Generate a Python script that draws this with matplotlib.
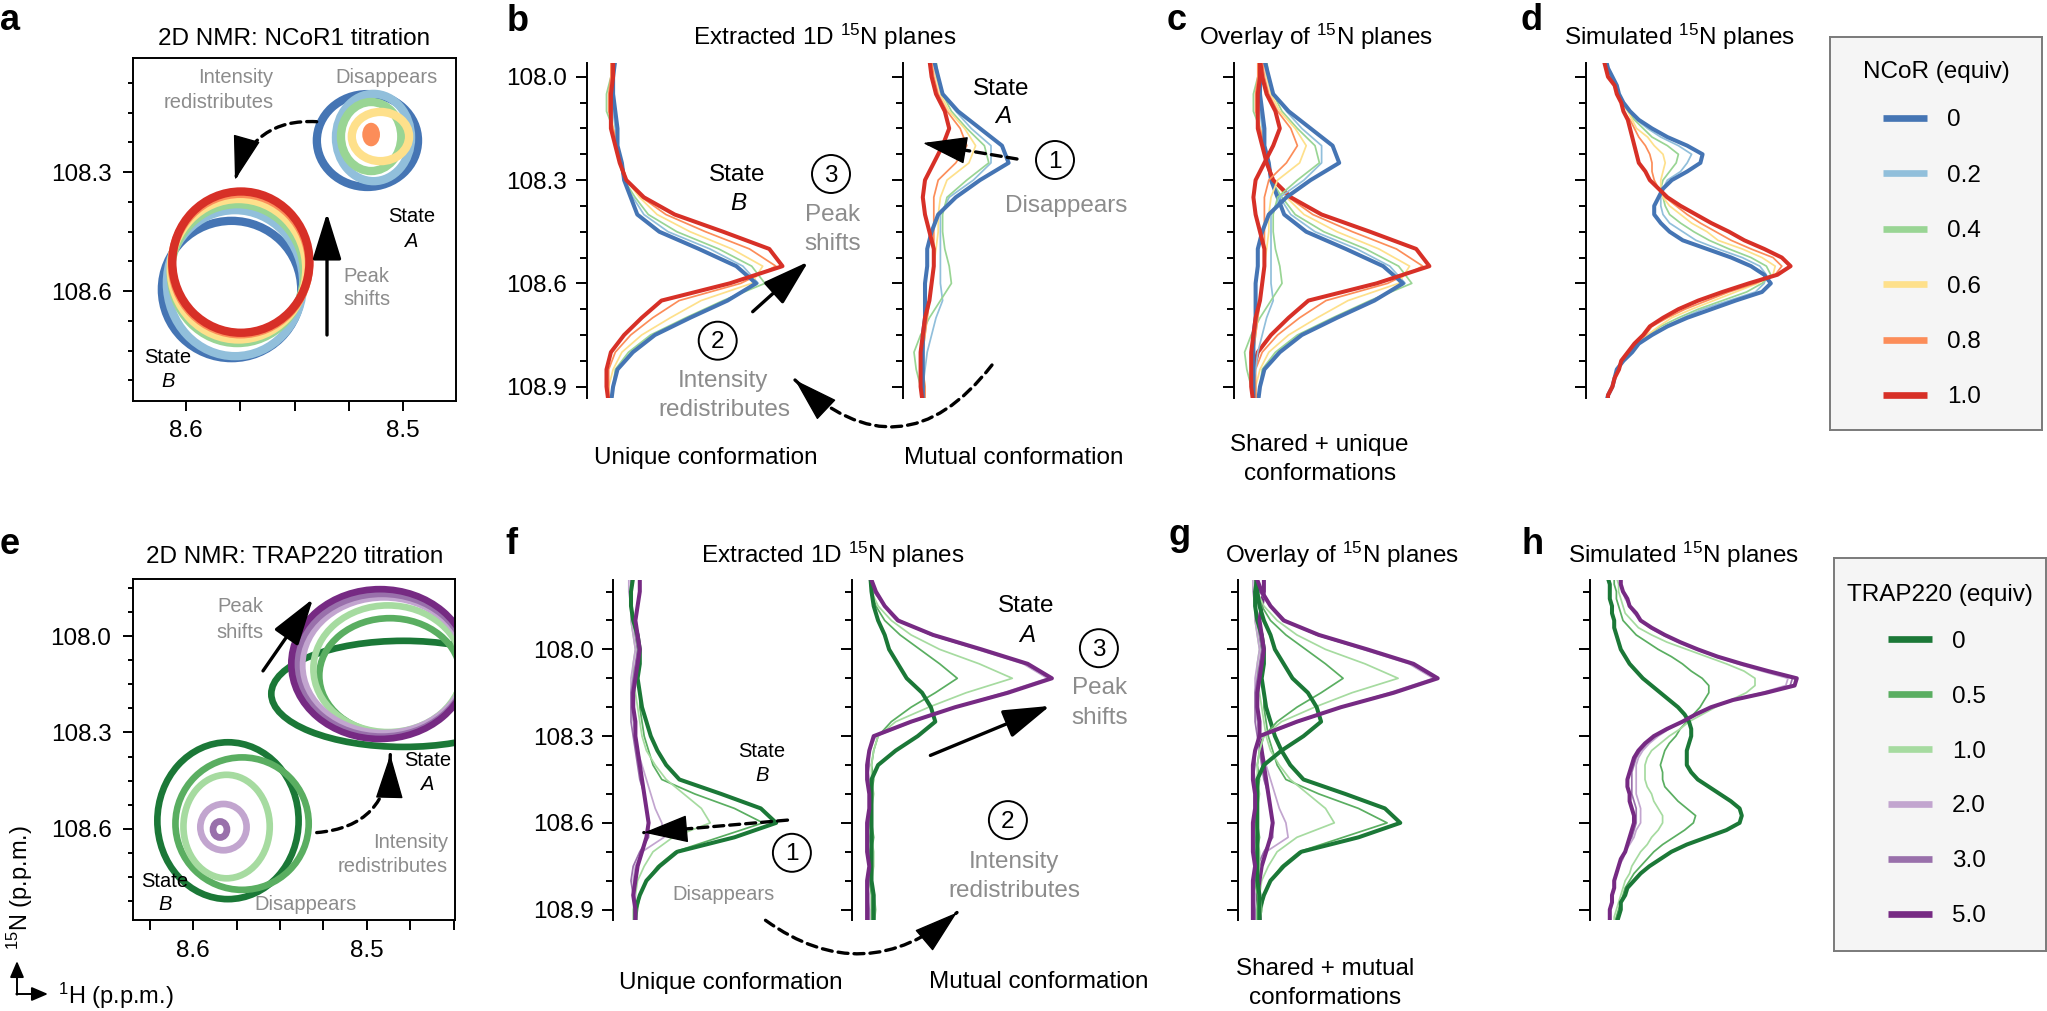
import matplotlib

matplotlib.use("Agg")

import matplotlib.pyplot as plt
import numpy as np
from matplotlib.lines import Line2D
from matplotlib.patches import Circle, Ellipse
from matplotlib.ticker import FixedLocator, FormatStrFormatter, MultipleLocator

plt.rcParams["font.family"] = ["Liberation Sans", "DejaVu Sans"]
plt.rcParams["mathtext.default"] = "regular"

W, H = 2047, 1011
GREY = "#8c8c8c"

NCOR_LABELS = ["0", "0.2", "0.4", "0.6", "0.8", "1.0"]
NCOR_COLORS = ["#4575b4", "#91bfdb", "#99d594", "#fee08b", "#fc8d59", "#d73027"]
TRAP_LABELS = ["0", "0.5", "1.0", "2.0", "3.0", "5.0"]
TRAP_COLORS = ["#1b7837", "#5aae61", "#a6dba0", "#c2a5cf", "#9970ab", "#762a83"]

# 2D peaks: centre (1H, 15N) and half-widths of the outer contour, one per titration point
NCOR_A_H = [8.5164, 8.5136, 8.5147, 8.5104, 8.5147, None]
NCOR_A_N = [108.2206, 108.213, 108.2105, 108.2105, 108.2055, None]
NCOR_A_DH = [0.0233, 0.0173, 0.0139, 0.0132, 0.0036, None]
NCOR_A_DN = [0.117, 0.110, 0.087, 0.062, 0.027, None]
NCOR_B_H = [8.579, 8.5774, 8.5763, 8.5758, 8.5749, 8.5747]
NCOR_B_N = [108.596, 108.580, 108.556, 108.545, 108.532, 108.527]
NCOR_B_DH = [0.0321, 0.0314, 0.0307, 0.0312, 0.0316, 0.0316]
NCOR_B_DN = [0.173, 0.184, 0.175, 0.177, 0.177, 0.178]

TRAP_A_H = [8.4790, 8.4868, 8.4879, 8.4902, 8.4914, 8.4925]
TRAP_A_N = [108.180, 108.1236, 108.1018, 108.0909, 108.0909, 108.0873]
TRAP_A_DH = [0.0760, 0.0406, 0.0429, 0.0470, 0.0492, 0.0510]
TRAP_A_DN = [0.165, 0.179, 0.197, 0.211, 0.222, 0.233]
TRAP_B_H = [8.5799, 8.5718, 8.5807, 8.5825, 8.5845, None]
TRAP_B_N = [108.5745, 108.5836, 108.5927, 108.5945, 108.6018, None]
TRAP_B_DH = [0.0406, 0.0383, 0.0248, 0.0133, 0.0040, None]
TRAP_B_DN = [0.244, 0.206, 0.161, 0.072, 0.025, None]

# 15N sampling of the 1D planes
PPM_NCOR_EXP = np.linspace(107.95, 108.95, 21)
PPM_NCOR_SIM = np.linspace(107.95, 108.95, 41)
PPM_TRAP_EXP = np.linspace(107.75, 108.95, 25)
PPM_TRAP_SIM = np.linspace(107.75, 108.95, 49)

NCOR_UNIQUE = [
    [0.13, 0.12, 0.12, 0.13, 0.14, 0.14, 0.16, 0.17, 0.20, 0.23, 0.33, 0.51, 0.68, 0.77, 0.64, 0.47, 0.31, 0.21, 0.14, 0.12, 0.11],
    [0.13, 0.12, 0.11, 0.12, 0.13, 0.14, 0.15, 0.17, 0.21, 0.26, 0.37, 0.56, 0.71, 0.78, 0.63, 0.46, 0.30, 0.20, 0.14, 0.12, 0.11],
    [0.12, 0.11, 0.09, 0.09, 0.12, 0.14, 0.15, 0.17, 0.22, 0.28, 0.41, 0.60, 0.75, 0.81, 0.62, 0.45, 0.29, 0.19, 0.13, 0.12, 0.11],
    [0.12, 0.12, 0.11, 0.11, 0.12, 0.14, 0.16, 0.18, 0.24, 0.32, 0.47, 0.66, 0.80, 0.75, 0.52, 0.38, 0.25, 0.16, 0.12, 0.10, 0.10],
    [0.11, 0.11, 0.10, 0.10, 0.12, 0.14, 0.16, 0.18, 0.25, 0.36, 0.54, 0.74, 0.86, 0.70, 0.42, 0.30, 0.20, 0.13, 0.10, 0.10, 0.10],
    [0.12, 0.12, 0.11, 0.11, 0.11, 0.13, 0.15, 0.18, 0.26, 0.40, 0.62, 0.83, 0.89, 0.65, 0.34, 0.25, 0.17, 0.11, 0.09, 0.09, 0.10],
]
NCOR_MUTUAL = [
    [0.14, 0.16, 0.18, 0.25, 0.35, 0.45, 0.48, 0.35, 0.24, 0.16, 0.13, 0.11, 0.11, 0.10, 0.10, 0.10, 0.09, 0.09, 0.09, 0.09, 0.09],
    [0.14, 0.15, 0.18, 0.24, 0.31, 0.40, 0.40, 0.32, 0.21, 0.17, 0.17, 0.17, 0.17, 0.17, 0.18, 0.15, 0.13, 0.11, 0.10, 0.09, 0.09],
    [0.15, 0.16, 0.18, 0.22, 0.29, 0.37, 0.39, 0.29, 0.20, 0.18, 0.18, 0.19, 0.21, 0.22, 0.17, 0.12, 0.08, 0.05, 0.06, 0.08, 0.09],
    [0.14, 0.15, 0.17, 0.21, 0.28, 0.33, 0.30, 0.20, 0.17, 0.16, 0.16, 0.15, 0.14, 0.13, 0.12, 0.11, 0.10, 0.09, 0.09, 0.10, 0.10],
    [0.13, 0.14, 0.16, 0.20, 0.26, 0.29, 0.24, 0.16, 0.14, 0.14, 0.14, 0.14, 0.14, 0.13, 0.12, 0.11, 0.10, 0.09, 0.09, 0.10, 0.10],
    [0.12, 0.13, 0.15, 0.19, 0.21, 0.18, 0.14, 0.10, 0.09, 0.10, 0.12, 0.14, 0.14, 0.13, 0.12, 0.10, 0.09, 0.08, 0.08, 0.08, 0.09],
]
NCOR_SIM = [
    [0.09, 0.10, 0.12, 0.14, 0.15, 0.17, 0.20, 0.24, 0.30, 0.37, 0.46, 0.53, 0.52, 0.46, 0.39, 0.35, 0.33, 0.31, 0.31, 0.34,
     0.38, 0.44, 0.55, 0.66, 0.75, 0.81, 0.84, 0.80, 0.68, 0.57, 0.46, 0.37, 0.30, 0.24, 0.21, 0.17, 0.14, 0.13, 0.12, 0.10, 0.09],
    [0.09, 0.10, 0.12, 0.14, 0.15, 0.17, 0.20, 0.23, 0.28, 0.34, 0.42, 0.48, 0.46, 0.43, 0.37, 0.35, 0.34, 0.34, 0.35, 0.38,
     0.44, 0.50, 0.60, 0.71, 0.79, 0.82, 0.81, 0.77, 0.65, 0.53, 0.44, 0.36, 0.29, 0.24, 0.21, 0.17, 0.14, 0.13, 0.12, 0.10, 0.09],
    [0.09, 0.10, 0.12, 0.14, 0.15, 0.17, 0.19, 0.22, 0.26, 0.30, 0.37, 0.42, 0.41, 0.38, 0.35, 0.34, 0.35, 0.36, 0.38, 0.43,
     0.49, 0.56, 0.65, 0.75, 0.82, 0.84, 0.80, 0.73, 0.62, 0.51, 0.42, 0.34, 0.28, 0.23, 0.20, 0.17, 0.14, 0.13, 0.12, 0.10, 0.09],
    [0.08, 0.09, 0.10, 0.13, 0.14, 0.16, 0.19, 0.21, 0.23, 0.28, 0.31, 0.35, 0.36, 0.35, 0.34, 0.34, 0.35, 0.38, 0.43, 0.48,
     0.55, 0.60, 0.71, 0.80, 0.86, 0.85, 0.78, 0.68, 0.58, 0.48, 0.39, 0.33, 0.28, 0.23, 0.20, 0.16, 0.15, 0.13, 0.12, 0.10, 0.10],
    [0.08, 0.09, 0.10, 0.13, 0.14, 0.16, 0.17, 0.20, 0.22, 0.24, 0.27, 0.29, 0.30, 0.30, 0.31, 0.33, 0.36, 0.41, 0.46, 0.52,
     0.59, 0.66, 0.75, 0.85, 0.89, 0.86, 0.77, 0.65, 0.55, 0.45, 0.37, 0.30, 0.27, 0.22, 0.19, 0.16, 0.15, 0.13, 0.12, 0.10, 0.10],
    [0.08, 0.09, 0.10, 0.13, 0.14, 0.16, 0.17, 0.19, 0.20, 0.21, 0.22, 0.23, 0.24, 0.27, 0.29, 0.33, 0.37, 0.43, 0.50, 0.57,
     0.65, 0.72, 0.81, 0.89, 0.93, 0.87, 0.74, 0.62, 0.51, 0.42, 0.35, 0.29, 0.26, 0.22, 0.19, 0.16, 0.15, 0.13, 0.12, 0.10, 0.10],
]

TRAP_UNIQUE = [
    [0.09, 0.08, 0.08, 0.09, 0.11, 0.12, 0.12, 0.11, 0.12, 0.13, 0.15, 0.17, 0.20, 0.24, 0.30, 0.49, 0.67, 0.74, 0.55, 0.29, 0.21, 0.15, 0.12, 0.10, 0.10],
    [0.09, 0.08, 0.08, 0.09, 0.10, 0.11, 0.11, 0.11, 0.12, 0.12, 0.13, 0.14, 0.16, 0.18, 0.22, 0.37, 0.55, 0.68, 0.48, 0.28, 0.20, 0.15, 0.12, 0.11, 0.10],
    [0.08, 0.08, 0.08, 0.08, 0.09, 0.10, 0.09, 0.09, 0.10, 0.11, 0.12, 0.13, 0.15, 0.19, 0.24, 0.32, 0.40, 0.44, 0.27, 0.18, 0.14, 0.11, 0.10, 0.09, 0.09],
    [0.07, 0.07, 0.08, 0.08, 0.09, 0.10, 0.09, 0.08, 0.08, 0.08, 0.09, 0.10, 0.11, 0.13, 0.15, 0.17, 0.19, 0.22, 0.23, 0.13, 0.10, 0.09, 0.10, 0.10, 0.10],
    [0.08, 0.08, 0.08, 0.09, 0.10, 0.11, 0.10, 0.09, 0.08, 0.08, 0.08, 0.09, 0.10, 0.11, 0.12, 0.14, 0.15, 0.16, 0.16, 0.12, 0.09, 0.08, 0.09, 0.10, 0.10],
    [0.12, 0.12, 0.11, 0.10, 0.11, 0.12, 0.11, 0.10, 0.09, 0.09, 0.10, 0.10, 0.11, 0.12, 0.13, 0.14, 0.15, 0.16, 0.15, 0.13, 0.11, 0.10, 0.09, 0.10, 0.10],
]
TRAP_MUTUAL = [
    [0.085, 0.09, 0.10, 0.12, 0.15, 0.17, 0.21, 0.25, 0.32, 0.36, 0.38, 0.30, 0.20, 0.12, 0.09, 0.09, 0.09, 0.09, 0.09, 0.09, 0.09, 0.09, 0.10, 0.10, 0.10],
    [0.08, 0.09, 0.11, 0.15, 0.22, 0.31, 0.40, 0.48, 0.38, 0.27, 0.18, 0.12, 0.10, 0.09, 0.10, 0.09, 0.08, 0.09, 0.10, 0.09, 0.09, 0.08, 0.09, 0.09, 0.09],
    [0.08, 0.09, 0.12, 0.18, 0.27, 0.40, 0.58, 0.73, 0.52, 0.35, 0.20, 0.12, 0.10, 0.09, 0.09, 0.10, 0.09, 0.08, 0.09, 0.10, 0.10, 0.09, 0.10, 0.11, 0.10],
    [0.08, 0.10, 0.15, 0.22, 0.36, 0.57, 0.78, 0.89, 0.69, 0.47, 0.28, 0.11, 0.08, 0.07, 0.08, 0.09, 0.08, 0.07, 0.08, 0.09, 0.08, 0.07, 0.08, 0.08, 0.08],
    [0.08, 0.10, 0.15, 0.21, 0.36, 0.58, 0.79, 0.90, 0.70, 0.47, 0.27, 0.10, 0.08, 0.08, 0.07, 0.08, 0.09, 0.08, 0.07, 0.08, 0.08, 0.08, 0.07, 0.08, 0.08],
    [0.085, 0.11, 0.15, 0.21, 0.37, 0.59, 0.80, 0.91, 0.71, 0.47, 0.27, 0.10, 0.08, 0.07, 0.07, 0.08, 0.08, 0.07, 0.07, 0.07, 0.08, 0.07, 0.07, 0.07, 0.07],
]
TRAP_SIM = [
    [0.08, 0.09, 0.09, 0.09, 0.10, 0.10, 0.11, 0.11, 0.12, 0.13, 0.14, 0.16, 0.18, 0.21, 0.24, 0.28, 0.32, 0.36, 0.40, 0.43,
     0.45, 0.46, 0.46, 0.45, 0.44, 0.44, 0.44, 0.46, 0.49, 0.54, 0.59, 0.64, 0.68, 0.69, 0.68, 0.62, 0.53, 0.44, 0.37, 0.32,
     0.27, 0.23, 0.20, 0.17, 0.16, 0.14, 0.14, 0.13, 0.12],
    [0.11, 0.11, 0.12, 0.12, 0.13, 0.14, 0.15, 0.18, 0.21, 0.26, 0.31, 0.37, 0.42, 0.46, 0.51, 0.54, 0.54, 0.52, 0.50, 0.47,
     0.44, 0.41, 0.39, 0.36, 0.34, 0.33, 0.32, 0.33, 0.33, 0.34, 0.37, 0.40, 0.44, 0.48, 0.47, 0.43, 0.38, 0.33, 0.29, 0.26,
     0.23, 0.20, 0.18, 0.16, 0.15, 0.14, 0.13, 0.12, 0.11],
    [0.12, 0.13, 0.13, 0.14, 0.15, 0.16, 0.19, 0.22, 0.28, 0.35, 0.44, 0.53, 0.62, 0.70, 0.75, 0.75, 0.71, 0.64, 0.57, 0.51,
     0.45, 0.41, 0.36, 0.32, 0.28, 0.26, 0.25, 0.25, 0.25, 0.26, 0.28, 0.29, 0.31, 0.33, 0.33, 0.31, 0.28, 0.26, 0.23, 0.21,
     0.19, 0.18, 0.16, 0.15, 0.14, 0.13, 0.12, 0.11, 0.11],
    [0.13, 0.14, 0.15, 0.16, 0.18, 0.20, 0.23, 0.27, 0.33, 0.40, 0.48, 0.57, 0.67, 0.78, 0.90, 0.89, 0.78, 0.64, 0.55, 0.48,
     0.42, 0.36, 0.31, 0.27, 0.24, 0.22, 0.21, 0.21, 0.21, 0.21, 0.21, 0.22, 0.23, 0.23, 0.23, 0.21, 0.20, 0.18, 0.16, 0.15,
     0.13, 0.12, 0.11, 0.11, 0.10, 0.10, 0.09, 0.09, 0.09],
    [0.14, 0.14, 0.15, 0.17, 0.18, 0.21, 0.23, 0.28, 0.34, 0.41, 0.49, 0.58, 0.68, 0.80, 0.92, 0.91, 0.79, 0.65, 0.55, 0.48,
     0.42, 0.35, 0.30, 0.26, 0.23, 0.21, 0.20, 0.19, 0.19, 0.19, 0.19, 0.20, 0.21, 0.21, 0.21, 0.20, 0.19, 0.17, 0.16, 0.14,
     0.13, 0.12, 0.11, 0.11, 0.10, 0.10, 0.09, 0.09, 0.09],
    [0.14, 0.14, 0.15, 0.17, 0.18, 0.21, 0.23, 0.28, 0.34, 0.41, 0.49, 0.58, 0.69, 0.81, 0.94, 0.93, 0.80, 0.65, 0.55, 0.48,
     0.42, 0.35, 0.29, 0.25, 0.22, 0.20, 0.19, 0.18, 0.17, 0.17, 0.18, 0.18, 0.19, 0.20, 0.20, 0.19, 0.18, 0.17, 0.16, 0.14,
     0.13, 0.12, 0.11, 0.11, 0.10, 0.10, 0.09, 0.09, 0.09],
]

fig = plt.figure(figsize=(W / 100, H / 100), dpi=100)
fig.patch.set_facecolor("white")


def rect(left, top, right, bottom):
    return [left / W, 1 - bottom / H, (right - left) / W, (bottom - top) / H]


ov = fig.add_axes([0, 0, 1, 1], zorder=10)
ov.set_xlim(0, W)
ov.set_ylim(H, 0)
ov.axis("off")


def contour_axis(box, xlim, ylim, yticks):
    ax = fig.add_axes(rect(*box))
    ax.set_xlim(*xlim)
    ax.set_ylim(*ylim)
    ax.xaxis.set_major_locator(FixedLocator([8.6, 8.5]))
    ax.xaxis.set_minor_locator(MultipleLocator(0.025))
    ax.yaxis.set_major_locator(FixedLocator(yticks))
    ax.yaxis.set_minor_locator(MultipleLocator(0.075))
    ax.xaxis.set_major_formatter(FormatStrFormatter("%.1f"))
    ax.yaxis.set_major_formatter(FormatStrFormatter("%.1f"))
    ax.tick_params(which="both", width=1.4, labelsize=17.5)
    ax.tick_params(axis="x", which="both", length=7, pad=7)
    ax.tick_params(axis="y", which="major", length=7.5, pad=8)
    ax.tick_params(axis="y", which="minor", length=3.8)
    for spine in ax.spines.values():
        spine.set_linewidth(1.4)
    return ax


def draw_peaks(ax, ch, cn, dh, dn, colors, lw, solid=None):
    for i, color in enumerate(colors):
        if ch[i] is None:
            continue
        filled = i == solid
        ax.add_patch(
            Ellipse(
                (ch[i], cn[i]), 2 * dh[i], 2 * dn[i],
                fill=filled, facecolor=color, edgecolor=color,
                lw=1.5 if filled else lw,
            )
        )


def trace_axis(spine_x, top, bottom, ylim, minor, labelled):
    ax = fig.add_axes(rect(spine_x, top, spine_x + 220, bottom))
    ax.patch.set_visible(False)
    ax.set_xlim(0, 1)
    ax.set_ylim(*ylim)
    for side in ("top", "right", "bottom"):
        ax.spines[side].set_visible(False)
    ax.spines["left"].set_linewidth(1.4)
    ax.set_xticks([])
    ax.yaxis.set_major_locator(FixedLocator([108.0, 108.3, 108.6, 108.9]))
    ax.yaxis.set_minor_locator(MultipleLocator(minor))
    ax.yaxis.set_major_formatter(FormatStrFormatter("%.1f"))
    ax.tick_params(axis="y", which="major", length=7.7, width=1.4, pad=6.5,
                   labelsize=17.5, labelleft=labelled)
    ax.tick_params(axis="y", which="minor", length=4.8, width=1.4)
    return ax


def draw_traces(ax, ppm, series, colors):
    for i in (1, 2, 3, 4, 0, 5):
        thick = i in (0, 5)
        ax.plot(series[i], ppm, color=colors[i], lw=2.9 if thick else 1.25)


def legend_panel(box, title, title_y, colors, labels, anchor, spacing):
    lax = fig.add_axes(rect(*box))
    lax.set_facecolor("#f5f5f5")
    lax.set_xticks([])
    lax.set_yticks([])
    for spine in lax.spines.values():
        spine.set_edgecolor("#7a7a7a")
        spine.set_linewidth(1.4)
    handles = [Line2D([], [], color=c, lw=4.8, solid_capstyle="butt") for c in colors]
    fig.legend(
        handles, labels, loc="upper left",
        bbox_to_anchor=(anchor[0] / W, 1 - anchor[1] / H),
        bbox_transform=fig.transFigure, frameon=False, fontsize=17.5,
        handlelength=1.81, handletextpad=0.82, labelspacing=spacing,
        borderpad=0, borderaxespad=0,
    )
    ov.text((box[0] + box[2]) / 2, title_y, title, fontsize=17.5, ha="center", va="baseline")


def text(x, y, s, size=17.5, color="black", ha="center", **kw):
    ov.text(x, y, s, fontsize=size, color=color, ha=ha, va="baseline", **kw)


HEAD = "-|>,head_length=1.45,head_width=0.45"


def arrow(start, end, rad=0.0, dashed=False):
    if not dashed:
        ov.annotate(
            "", xy=end, xytext=start,
            arrowprops=dict(arrowstyle=HEAD, mutation_scale=20, lw=2.4, color="black",
                            shrinkA=0, shrinkB=0),
        )
        return
    ov.annotate(
        "", xy=end, xytext=start,
        arrowprops=dict(arrowstyle="-", lw=2.4, color="black", shrinkA=0, shrinkB=0,
                        connectionstyle=f"arc3,rad={rad}", linestyle=(0, (3, 1.8))),
    )
    # solid head aligned with the end tangent of the arc
    (sx, sy), (ex, ey) = start, end
    cx = (sx + ex) / 2 - rad * (ey - sy)
    cy = (sy + ey) / 2 + rad * (ex - sx)
    tx, ty = ex - cx, ey - cy
    norm = np.hypot(tx, ty)
    base = (ex - 42 * tx / norm, ey - 42 * ty / norm)
    ov.annotate(
        "", xy=end, xytext=base,
        arrowprops=dict(arrowstyle=HEAD, mutation_scale=20, lw=1.0, color="black",
                        shrinkA=0, shrinkB=0),
    )


def circled(x, y, s):
    ov.add_patch(Circle((x, y), 19, fill=False, lw=1.4, ec="black"))
    ov.text(x, y + 1.5, s, fontsize=17.5, ha="center", va="center")


# ---------------- top row: NCoR1 ----------------
ax_a = contour_axis((133, 58, 456, 401), (8.6244, 8.4756), (108.877, 108.0126), [108.3, 108.6])
draw_peaks(ax_a, NCOR_B_H, NCOR_B_N, NCOR_B_DH, NCOR_B_DN, NCOR_COLORS, 6)
draw_peaks(ax_a, NCOR_A_H, NCOR_A_N, NCOR_A_DH, NCOR_A_DN, NCOR_COLORS, 6, solid=4)

TOP = (62.7, 398.0, (108.933, 107.959), 0.075)
ax_b1 = trace_axis(586.7, *TOP, True)
ax_b2 = trace_axis(903.0, *TOP, False)
ax_c = trace_axis(1233.6, *TOP, False)
ax_d = trace_axis(1586.0, *TOP, False)
draw_traces(ax_b1, PPM_NCOR_EXP, NCOR_UNIQUE, NCOR_COLORS)
draw_traces(ax_b2, PPM_NCOR_EXP, NCOR_MUTUAL, NCOR_COLORS)
draw_traces(ax_c, PPM_NCOR_EXP, NCOR_UNIQUE, NCOR_COLORS)
draw_traces(ax_c, PPM_NCOR_EXP, NCOR_MUTUAL, NCOR_COLORS)
draw_traces(ax_d, PPM_NCOR_SIM, NCOR_SIM, NCOR_COLORS)
legend_panel((1830, 36.7, 2042, 430), "NCoR (equiv)", 78.3, NCOR_COLORS, NCOR_LABELS,
             (1883, 109.3), 1.375)

# ---------------- bottom row: TRAP220 ----------------
ax_e = contour_axis((133, 579.3, 455, 920.3), (8.6345, 8.4494), (108.8843, 107.8236),
                    [108.0, 108.3, 108.6])
draw_peaks(ax_e, TRAP_A_H, TRAP_A_N, TRAP_A_DH, TRAP_A_DN, TRAP_COLORS, 4.8)
draw_peaks(ax_e, TRAP_B_H, TRAP_B_N, TRAP_B_DH, TRAP_B_DN, TRAP_COLORS, 4.8)

BOT = (580.0, 920.3, (108.937, 107.760), 0.1)
ax_f1 = trace_axis(613.4, *BOT, True)
ax_f2 = trace_axis(851.7, *BOT, False)
ax_g = trace_axis(1237.5, *BOT, False)
ax_h = trace_axis(1590.0, *BOT, False)
draw_traces(ax_f1, PPM_TRAP_EXP, TRAP_UNIQUE, TRAP_COLORS)
draw_traces(ax_f2, PPM_TRAP_EXP, TRAP_MUTUAL, TRAP_COLORS)
draw_traces(ax_g, PPM_TRAP_EXP, TRAP_UNIQUE, TRAP_COLORS)
draw_traces(ax_g, PPM_TRAP_EXP, TRAP_MUTUAL, TRAP_COLORS)
draw_traces(ax_h, PPM_TRAP_SIM, TRAP_SIM, TRAP_COLORS)
legend_panel((1834, 558, 2046, 951), "TRAP220 (equiv)", 600.7, TRAP_COLORS, TRAP_LABELS,
             (1888, 630.7), 1.354)

# ---------------- labels and titles ----------------
for letter, x, y in (("a", 0, 30), ("b", 507, 31), ("c", 1167, 30), ("d", 1521, 30),
                     ("e", 0, 554), ("f", 505, 554), ("g", 1168, 545), ("h", 1521, 554)):
    text(x, y, letter, size=26, ha="left", fontweight="bold")

text(294, 45, "2D NMR: NCoR1 titration")
text(824.5, 45, r"Extracted 1D $^{15}$N planes")
text(1316, 45, r"Overlay of $^{15}$N planes")
text(1680, 45, r"Simulated $^{15}$N planes")
text(294.5, 563, "2D NMR: TRAP220 titration")
text(832.5, 563, r"Extracted 1D $^{15}$N planes")
text(1341.5, 563, r"Overlay of $^{15}$N planes")
text(1684, 563, r"Simulated $^{15}$N planes")

text(705.5, 464, "Unique conformation")
text(1014, 464, "Mutual conformation")
text(1319.6, 450.7, "Shared + unique")
text(1319.6, 479.9, "conformations")
text(731, 988.5, "Unique conformation")
text(1039, 988.5, "Mutual conformation")
text(1325, 974.8, "Shared + mutual")
text(1325, 1004, "conformations")

# panel a
text(273.3, 83.3, "Intensity", 14.5, GREY, "right")
text(273.3, 108.3, "redistributes", 14.5, GREY, "right")
text(386.7, 83.3, "Disappears", 14.5, GREY)
text(411.7, 221.7, "State", 14.5)
text(411.7, 246.7, "A", 14.5, style="italic")
text(343.3, 281.7, "Peak", 14.5, GREY, "left")
text(343.3, 305, "shifts", 14.5, GREY, "left")
text(167.5, 363.3, "State", 14.5)
text(168.3, 386.7, "B", 14.5, style="italic")
arrow((327, 335), (327, 213))
arrow((316.7, 121.7), (235, 180), rad=0.4, dashed=True)

# panel b
text(737, 181, "State")
text(738.3, 210, "B", style="italic")
circled(831, 174, "3")
text(833, 220.7, "Peak", color=GREY)
text(833, 250, "shifts", color=GREY)
arrow((752.7, 311.7), (808.3, 261.7))
circled(717.7, 340.7, "2")
text(723.3, 386.7, "Intensity", color=GREY)
text(724, 415.6, "redistributes", color=GREY)
arrow((992, 365), (795, 380), rad=-0.55, dashed=True)
text(1001, 95, "State")
text(1003, 123.3, "A", style="italic")
circled(1055, 160, "1")
text(1066, 211.7, "Disappears", color=GREY)
arrow((1017, 159), (923, 143), dashed=True)

# panel e
text(240, 612.4, "Peak", 14.5, GREY)
text(240, 637.7, "shifts", 14.5, GREY)
arrow((263, 670.9), (313, 598.8))
text(427.5, 766.3, "State", 14.5)
text(427.5, 789.7, "A", 14.5, style="italic")
arrow((316.7, 832.6), (390.3, 754.6), rad=0.45, dashed=True)
text(447.8, 848.2, "Intensity", 14.5, GREY, "right")
text(447.8, 871.6, "redistributes", 14.5, GREY, "right")
text(165, 887.1, "State", 14.5)
text(165, 910.5, "B", 14.5, style="italic")
text(305, 910.5, "Disappears", 14.5, GREY)

# panel f
text(762, 756.6, "State", 14.5)
text(762.2, 781.1, "B", 14.5, style="italic")
arrow((787.5, 820.1), (643.8, 832.6), dashed=True)
circled(791.9, 852.8, "1")
text(724, 899.6, "Disappears", 14.5, GREY)
arrow((765.5, 920.3), (957, 912.5), rad=0.39, dashed=True)
text(1026.6, 612.4, "State")
text(1026.8, 641.6, "A", style="italic")
circled(1098.9, 648.2, "3")
text(1100, 694.2, "Peak", color=GREY)
text(1100, 723.5, "shifts", color=GREY)
arrow((930.4, 755.4), (1050, 705.9))
circled(1007.9, 820.1, "2")
text(1014.3, 867.6, "Intensity", color=GREY)
text(1014.3, 896.9, "redistributes", color=GREY)

# axis orientation key
text(58, 1004, r"$^{1}$H (p.p.m.)", 17, ha="left")
ov.text(20, 888, r"$^{15}$N (p.p.m.)", fontsize=17, rotation=90, ha="center", va="center")
small_head = dict(arrowstyle="-|>,head_length=0.7,head_width=0.3", mutation_scale=14,
                  lw=1.4, color="black", shrinkA=0, shrinkB=0)
ov.annotate("", xy=(17, 961), xytext=(17, 994.7), arrowprops=small_head)
ov.annotate("", xy=(48, 994), xytext=(16.3, 994), arrowprops=small_head)

fig.savefig("out.png", dpi=100, facecolor="white")
